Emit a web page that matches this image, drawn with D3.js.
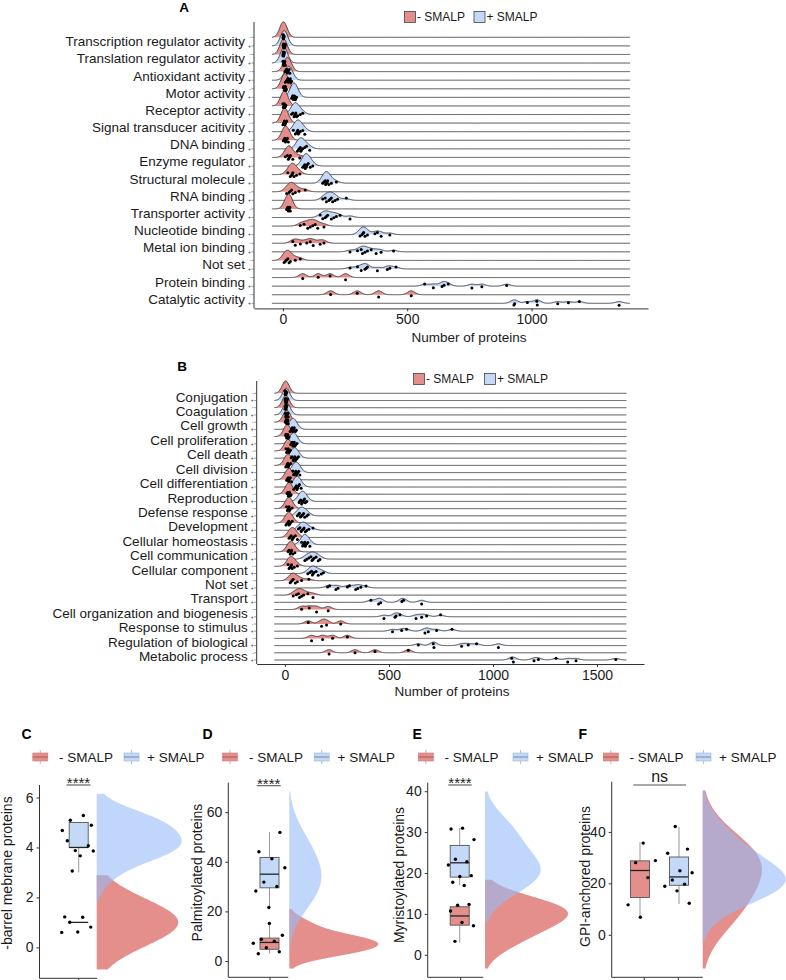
<!DOCTYPE html>
<html><head><meta charset="utf-8">
<script src="https://cdn.jsdelivr.net/npm/d3@7"></script>
<style>body{margin:0;background:#fff}</style>
</head><body><svg id="c" width="786" height="980"></svg>
<script>
// ---------------- DATA ----------------
const groups = ["- SMALP", "+ SMALP"];
const catsA = ["Transcription regulator activity","Translation regulator activity","Antioxidant activity","Motor activity","Receptor activity","Signal transducer acitivity","DNA binding","Enzyme regulator","Structural molecule","RNA binding","Transporter activity","Nucleotide binding","Metal ion binding","Not set","Protein binding","Catalytic activity"];
const aMinus = [
[0,1,1,2,2,3,4,5],[0,1,2,2,3,4,5,6],[8,12,15,18,20,22,25,28],[2,4,6,8,9,10,12,14],
[0,2,4,5,6,8,10,12],[0,3,5,6,8,10,12,15],[2,5,8,10,12,15,18,22],[10,18,22,25,28,30,40,68],
[20,30,35,38,40,45,55,68],[15,25,30,35,40,50,65,90],[15,18,20,22,24,26,28,30],[70,85,100,110,120,130,140,165],
[40,50,70,96,110,122,150,165],[5,10,15,20,25,30,50,70],[80,142,190,252],[192,299,385,516]];
const aPlus = [
[1,2,3,3,4,5,6,8,9,10],[0,1,2,3,4,5,6,7,8,10],[10,14,18,20,22,24,26,30,32,35],[35,38,40,42,44,45,47,50,52,55],
[35,40,45,48,50,52,55,60,70,80],[42,50,55,58,60,62,65,70,80,88],[58,62,66,70,72,75,80,88,95,108],[80,85,88,90,93,95,98,102,110,120],
[160,165,170,172,175,178,180,185,195,215],[160,170,175,185,190,195,200,210,220,255],[150,160,170,175,180,195,205,215,230,270],[310,318,322,325,330,340,370,380,395,430],
[270,300,315,320,330,340,355,375,395,445],[270,300,315,330,335,340,380,420,430,455],[570,605,640,648,665,760,800,900],[929,932,983,1021,1023,1105,1148,1192,1352]];
const ticksA = [0,500,1000];

const catsB = ["Conjugation","Coagulation","Cell growth","Cell proliferation","Cell death","Cell division","Cell differentiation","Reproduction","Defense response","Development","Cellular homeostasis","Cell communication","Cellular component","Not set","Transport","Cell organization and biogenesis","Response to stimulus","Regulation of biological","Metabolic process"];
const bMinus = [
[0,1,2,3,4,5,6,8],[0,2,3,4,5,6,8,10],[2,4,6,8,10,12,14,16],[3,6,8,10,12,14,16,20],
[5,8,12,15,16,18,22,26],[4,8,12,14,16,18,22,28],[8,12,16,18,20,22,26,32],[10,14,16,18,20,22,26,30],
[8,12,15,18,20,22,25,35],[5,10,15,18,20,24,28,35],[20,25,30,35,38,42,50,60],[15,20,25,28,30,32,38,48],
[15,20,25,30,32,35,45,60],[25,30,35,40,50,60,80,115],[40,55,65,70,80,90,110,135],[80,117,152,208],
[112,176,200,268],[128,181,229,300],[212,337,433,593]];
const bPlus = [
[1,2,3,4,5,6,7,8,10,12],[2,4,5,6,7,8,10,12,14,16],[25,30,32,35,37,40,42,45,50,55],[28,32,35,38,40,42,45,48,52,58],
[30,35,40,42,45,48,50,55,60,65],[38,42,46,50,52,55,58,62,66,72],[42,48,52,55,58,60,62,66,70,78],[68,72,76,80,84,86,90,94,98,105],
[60,66,70,75,80,85,90,95,105,112],[65,72,78,82,88,92,98,105,115,135],[80,85,88,92,95,98,100,105,110,120],[96,105,115,125,130,135,140,150,160,168],
[110,120,128,132,136,140,150,160,175,185],[205,215,245,255,300,310,340,350,365,390],[413,450,460,562,570,657],[476,529,534,553,630,657,681,748],
[517,561,585,673,689,729,803],[641,713,716,849,881,921,1026],[1090,1098,1197,1218,1303,1359,1399,1590]];
const ticksB = [0,500,1000,1500];

const cMinus = [1,1,1,1,1,1];
const cPlus  = [3,4,4,4,4,4,5,5,5,5];
const dMinus = [3,4,5,7,8,9,10,15];
const dPlus  = [22,28,30,32,38,41,44,52];
const eMinus = [3,7,8,11,12,12];
const ePlus  = [17,18,19,19,22,23,23,28,31,31];
const fMinus = [7,12,22,28,29,36];
const fPlus  = [12,17,19,20,21,24,25,32,33,42];
const ticksC = [0,2,4,6], ticksD = [0,20,40,60], ticksE = [0,10,20,30,40], ticksF = [0,20,40];
const yTitles = ["-barrel mebrane proteins","Palmitoylated proteins","Myristoylated proteins","GPI-anchored proteins"];
const sigLabels = ["****","****","****","ns"];
const panelLetters = ["A","B","C","D","E","F"];

// ---------------- HELPERS ----------------
const FONT = "'Liberation Sans', Arial, Helvetica, sans-serif";
const RED = "#E58F8C", BLUE = "#C4D9F8";
const RED_V = "rgb(210,68,63)", BLUE_V = "rgb(150,186,247)";
const svg = d3.select("#c").style("font-family", FONT);

function nrd0(a){
  const s = a.slice().sort(d3.ascending);
  const hi = d3.deviation(s) || 0;
  const iqr = d3.quantileSorted(s,0.75) - d3.quantileSorted(s,0.25);
  let lo = Math.min(hi, iqr/1.34);
  if (!(lo > 0)) lo = hi || Math.abs(s[0]) || 1;
  return 0.9*lo*Math.pow(s.length,-0.2);
}
const gauss = z => Math.exp(-0.5*z*z)/Math.sqrt(2*Math.PI);
function kde(data,bw,xs){ return xs.map(x=>[x, d3.sum(data,d=>gauss((x-d)/bw))/(data.length*bw)]); }
const frac = v => v - Math.floor(v);

// ---------------- RIDGE PANELS ----------------
function ridgePanel(cfg){
  const g = svg.append("g");
  const {cats, minus, plus, bw, x0, x1, yTop, yFirst, yLast, yBottom, H} = cfg;
  const all = minus.flat().concat(plus.flat());
  const from = d3.min(all) - 3*bw, to = d3.max(all) + 3*bw;
  const pad = (to-from)*0.05;
  const x = d3.scaleLinear().domain([from-pad, to+pad]).range([x0, x1]);
  const rows = [];
  cats.forEach((c,i)=>{ rows.push({cat:c,g:0,data:minus[i]}); rows.push({cat:c,g:1,data:plus[i]}); });
  const y = d3.scalePoint().domain(d3.range(rows.length)).range([yFirst, yLast]);
  const grid = d3.range(0,801).map(i=>from+(to-from)*i/800);
  rows.forEach(r=>r.dens = kde(r.data,bw,grid));
  const maxD = d3.max(rows, r=>d3.max(r.dens,d=>d[1]));
  const h = d3.scaleLinear().domain([0,maxD]).range([0,H]);
  rows.forEach((r,i)=>{
    const area = d3.area().x(d=>x(d[0])).y0(y(i)).y1(d=>y(i)-h(d[1]));
    const line = d3.line().x(d=>x(d[0])).y(d=>y(i)-h(d[1]));
    g.append("path").attr("d",area(r.dens)).attr("fill", r.g?BLUE:RED);
    g.append("path").attr("d",line(r.dens)).attr("fill","none").attr("stroke","#333").attr("stroke-width",0.9);
  });
  rows.forEach((r,i)=>{
    r.data.forEach((v,j)=>{
      const jy = (frac(j*0.7548776662 + i*0.3819) - 0.5)*5;
      g.append("circle").attr("cx",x(v)).attr("cy",y(i)+jy).attr("r",1.5).attr("fill","#000");
    });
  });
  // y axis
  g.append("line").attr("x1",x0).attr("x2",x0).attr("y1",yTop).attr("y2",yBottom).attr("stroke","#333").attr("stroke-width",1);
  rows.forEach((r,i)=>{
    g.append("line").attr("x1",x0-2.5).attr("x2",x0).attr("y1",y(i)).attr("y2",y(i)).attr("stroke","#555").attr("stroke-width",0.6);
    g.append("text").attr("x",x0-3).attr("y",y(i)).attr("dy","0.35em").attr("text-anchor","end")
      .attr("font-size",5).attr("fill","#333").text(r.g? "+" : "-");
  });
  cats.forEach((c,i)=>{
    g.append("text").attr("x",x0-9).attr("y",(y(2*i)+y(2*i+1))/2).attr("dy","0.35em").attr("text-anchor","end")
      .attr("font-size",13.5).attr("fill","#1a1a1a").text(c);
  });
  // x axis
  const ax = g.append("g").attr("transform",`translate(0,${yBottom})`)
    .call(d3.axisBottom(x).tickValues(cfg.ticks).tickSize(3).tickSizeOuter(0).tickFormat(d3.format("d")));
  ax.select(".domain").attr("stroke","#333");
  ax.selectAll(".tick line").attr("stroke","#333");
  ax.selectAll("text").attr("font-size",14).attr("fill","#1a1a1a").attr("font-family",FONT);
  g.append("text").attr("x",cfg.xTitleX).attr("y",cfg.xTitleY).attr("text-anchor","middle").attr("font-size",13.5).attr("fill","#1a1a1a").text("Number of proteins");
  // title
  g.append("text").attr("x",cfg.titleX).attr("y",cfg.titleY).attr("text-anchor","middle").attr("font-size",13.5).attr("font-weight","bold").text(cfg.letter);
  // legend
  const lg = cfg.legend;
  [[lg.rx,RED,groups[0]],[lg.bx,BLUE,groups[1]]].forEach(([lx,col,lab])=>{
    g.append("rect").attr("x",lx).attr("y",lg.y-5.5).attr("width",11).attr("height",11).attr("fill",col).attr("stroke","#444").attr("stroke-width",0.8);
    g.append("text").attr("x",lx+12.5).attr("y",lg.y).attr("dy","0.35em").attr("font-size",12).attr("fill","#1a1a1a").text(lab);
  });
}

ridgePanel({cats:catsA, minus:aMinus, plus:aPlus, bw:14.7, x0:254, x1:648, yTop:22, yFirst:37.3, yLast:303.3, yBottom:308.4, H:15.5,
  ticks:ticksA, xTitleX:469, xTitleY:342, titleX:184, titleY:11.5, letter:panelLetters[0], legend:{rx:404.5, bx:474, y:17}});
ridgePanel({cats:catsB, minus:bMinus, plus:bPlus, bw:17, x0:256.7, x1:644, yTop:381, yFirst:393.3, yLast:660, yBottom:664, H:12.3,
  ticks:ticksB, xTitleX:452, xTitleY:696, titleX:182, titleY:370.5, letter:panelLetters[1], legend:{rx:413.5, bx:484.5, y:379}});

// ---------------- RAINCLOUD PANELS ----------------
function boxStats(a){
  const s = a.slice().sort(d3.ascending);
  const q1 = d3.quantileSorted(s,0.25), med = d3.quantileSorted(s,0.5), q3 = d3.quantileSorted(s,0.75);
  const iqr = q3-q1;
  const lo = d3.min(s.filter(v=>v>=q1-1.5*iqr)), hi = d3.max(s.filter(v=>v<=q3+1.5*iqr));
  return {q1,med,q3,lo,hi};
}
const ADJUST = 1.5;
function violin(a){
  const bw = nrd0(a)*ADJUST;
  const lo = d3.min(a)-2*bw, hi = d3.max(a)+2*bw;
  const ys = d3.range(0,401).map(i=>lo+(hi-lo)*i/400);
  return {lo,hi,dens:kde(a,bw,ys)};
}
function rainPanel(cfg, pIdx){
  const g = svg.append("g");
  const sets = [cfg.minus, cfg.plus];
  const vs = sets.map(violin);
  const lo = d3.min(vs,v=>v.lo), hi = d3.max(vs,v=>v.hi);
  const pad = (hi-lo)*0.05;
  const y = d3.scaleLinear().domain([lo-pad, hi+pad]).range([cfg.bottom, cfg.top]);
  const maxD = d3.max(vs, v=>d3.max(v.dens,d=>d[1]));
  const w = d3.scaleLinear().domain([0,maxD]).range([0,cfg.W]);
  vs.forEach((v,k)=>{
    const area = d3.area().y(d=>y(d[0])).x0(cfg.vBase).x1(d=>cfg.vBase+w(d[1]));
    g.append("path").attr("d",area(v.dens)).attr("fill",k?BLUE_V:RED_V).attr("fill-opacity",0.6);
  });
  // boxes
  sets.forEach((s,k)=>{
    const b = boxStats(s), cx = cfg.cx[k], bw2 = 9.5;
    g.append("line").attr("x1",cx).attr("x2",cx).attr("y1",y(b.hi)).attr("y2",y(b.q3)).attr("stroke","#999").attr("stroke-width",1);
    g.append("line").attr("x1",cx).attr("x2",cx).attr("y1",y(b.q1)).attr("y2",y(b.lo)).attr("stroke","#999").attr("stroke-width",1);
    g.append("rect").attr("x",cx-bw2).attr("y",y(b.q3)).attr("width",2*bw2).attr("height",Math.max(0,y(b.q1)-y(b.q3)))
      .attr("fill",k?BLUE:RED).attr("stroke","#555").attr("stroke-width",0.9);
    g.append("line").attr("x1",cx-bw2).attr("x2",cx+bw2).attr("y1",y(b.med)).attr("y2",y(b.med)).attr("stroke","#222").attr("stroke-width",1.3);
  });
  // points
  sets.forEach((s,k)=>{
    s.forEach((v,j)=>{
      const jx = (frac(j*0.6180339887 + k*0.31 + pIdx*0.17)*2-1)*cfg.jw;
      const jy = (frac(j*0.7548776662 + k*0.57 + pIdx*0.43)*2-1)*0.4;
      g.append("circle").attr("cx",cfg.cx[k]+jx).attr("cy",y(v+jy)).attr("r",1.7).attr("fill","#000");
    });
  });
  // axes
  g.append("line").attr("x1",cfg.axisX).attr("x2",cfg.axisX).attr("y1",cfg.top).attr("y2",cfg.bottom).attr("stroke","#333");
  g.append("line").attr("x1",cfg.axisX).attr("x2",cfg.xEnd).attr("y1",cfg.bottom).attr("y2",cfg.bottom).attr("stroke","#333");
  const ay = g.append("g").attr("transform",`translate(${cfg.axisX},0)`)
    .call(d3.axisLeft(y).tickValues(cfg.ticks).tickSize(3).tickSizeOuter(0).tickPadding(3));
  ay.select(".domain").remove();
  ay.selectAll(".tick line").attr("stroke","#333");
  ay.selectAll("text").attr("font-size",14).attr("fill","#222").attr("font-family",FONT);
  cfg.xTicks.forEach(t=>g.append("line").attr("x1",t).attr("x2",t).attr("y1",cfg.bottom).attr("y2",cfg.bottom+3).attr("stroke","#333"));
  // y title
  g.append("text").attr("transform",`translate(${cfg.yTitleX},${cfg.yTitleY}) rotate(-90)`).attr("text-anchor","middle")
    .attr("font-size",14).attr("fill","#1a1a1a").text(cfg.yTitle);
  // significance
  g.append("line").attr("x1",cfg.sig[0]).attr("x2",cfg.sig[1]).attr("y1",cfg.sigY).attr("y2",cfg.sigY).attr("stroke","#555").attr("stroke-width",1.1);
  g.append("text").attr("x",(cfg.sig[0]+cfg.sig[1])/2).attr("y",cfg.sigTextY).attr("text-anchor","middle")
    .attr("font-size",cfg.sigLabel==="ns"?16:15).attr("fill","#222").text(cfg.sigLabel);
  // panel letter
  g.append("text").attr("x",cfg.letterX).attr("y",739.3).attr("font-size",14).attr("font-weight","bold").text(cfg.letter);
  // legend
  const ly = 757;
  [[cfg.leg[0],RED,groups[0]],[cfg.leg[2],BLUE,groups[1]]].forEach(([kx,col,lab],k)=>{
    g.append("line").attr("x1",kx).attr("x2",kx).attr("y1",ly-7).attr("y2",ly+7).attr("stroke","#aaa").attr("stroke-width",0.8);
    g.append("rect").attr("x",kx-7.5).attr("y",ly-4).attr("width",15).attr("height",8).attr("fill",col).attr("stroke",k?"#9fb6da":"#d07c79").attr("stroke-width",0.6);
    g.append("line").attr("x1",kx-7.5).attr("x2",kx+7.5).attr("y1",ly).attr("y2",ly).attr("stroke",k?"#6d7f9c":"#9a5552").attr("stroke-width",0.9);
    g.append("text").attr("x",cfg.leg[k?3:1]).attr("y",ly).attr("dy","0.35em").attr("font-size",13.5).attr("fill","#1a1a1a").text(lab);
  });
}

rainPanel({minus:cMinus, plus:cPlus, ticks:ticksC, top:785, bottom:978.3, axisX:39.5, xEnd:97, xTicks:[78.7], cx:[78.7,78.7], jw:17,
  vBase:96.7, W:85, yTitle:yTitles[0], yTitleX:12, yTitleY:873, sig:[66.5,90.5], sigY:785, sigTextY:788, sigLabel:sigLabels[0],
  letter:panelLetters[2], letterX:21.5, leg:[40.3,59,131.5,147]}, 0);
rainPanel({minus:dMinus, plus:dPlus, ticks:ticksD, top:782.7, bottom:977.3, axisX:228.3, xEnd:288.3, xTicks:[270], cx:[269.5,269.5], jw:17,
  vBase:289.3, W:89, yTitle:yTitles[1], yTitleX:202, yTitleY:872.5, sig:[256.7,280.7], sigY:785.7, sigTextY:788.5, sigLabel:sigLabels[1],
  letter:panelLetters[3], letterX:202.5, leg:[230,249,321.7,337.5]}, 1);
rainPanel({minus:eMinus, plus:ePlus, ticks:ticksE, top:782.7, bottom:977.3, axisX:427.7, xEnd:483.3, xTicks:[460.7], cx:[459.7,459.7], jw:15,
  vBase:485, W:83, yTitle:yTitles[2], yTitleX:403.5, yTitleY:875, sig:[448.3,471.7], sigY:785, sigTextY:788, sigLabel:sigLabels[2],
  letter:panelLetters[4], letterX:412.5, leg:[425.8,444.5,520.5,536]}, 2);
rainPanel({minus:fMinus, plus:fPlus, ticks:ticksF, top:781.7, bottom:977.3, axisX:611.7, xEnd:702.7, xTicks:[644.3,678.3], cx:[640,679], jw:16,
  vBase:702.7, W:83, yTitle:yTitles[3], yTitleX:590, yTitleY:876.5, sig:[633.3,686], sigY:785, sigTextY:781.5, sigLabel:sigLabels[3],
  letter:panelLetters[5], letterX:578.5, leg:[610.8,629.5,703.5,719]}, 3);
</script>
</body></html>
